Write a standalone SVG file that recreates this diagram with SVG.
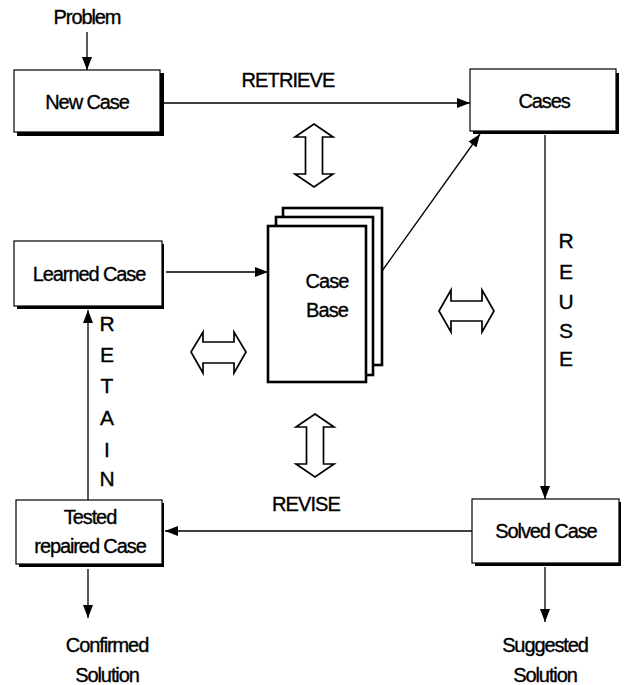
<svg xmlns="http://www.w3.org/2000/svg" width="625" height="685" viewBox="0 0 625 685">
<style>
text{font-family:"Liberation Sans",Arial,sans-serif;fill:#000;stroke:#000;stroke-width:0.35}
.lbl{font-size:20px;letter-spacing:-1.1px;text-anchor:middle}
.big{font-size:20px;letter-spacing:-0.9px;text-anchor:middle}
.vert{font-size:21px;text-anchor:middle}
.box{fill:#fff;stroke:#000;stroke-width:1.2}
.shadow{fill:#000}
.sheet{fill:#fff;stroke:#000;stroke-width:2.6}
.conn{fill:none;stroke:#000;stroke-width:1.3}
.dbl{fill:#fff;stroke:#000;stroke-width:1.7;stroke-linejoin:miter}
</style>
<defs>
<marker id="ah" viewBox="0 0 13 10" refX="13" refY="5" markerWidth="13" markerHeight="10" markerUnits="userSpaceOnUse" orient="auto">
<path d="M0,0 L13,5 L0,10 Z" fill="#000"/>
</marker>
</defs>

<g id="connectors">
<line class="conn" x1="87" y1="32" x2="87" y2="70" marker-end="url(#ah)"/>
<line class="conn" x1="163" y1="103" x2="470" y2="103" marker-end="url(#ah)"/>
<line class="conn" x1="382" y1="271" x2="480" y2="134" marker-end="url(#ah)"/>
<line class="conn" x1="166" y1="272" x2="268" y2="272" marker-end="url(#ah)"/>
<line class="conn" x1="545" y1="135" x2="545" y2="499" marker-end="url(#ah)"/>
<line class="conn" x1="472" y1="531" x2="165" y2="531" marker-end="url(#ah)"/>
<line class="conn" x1="88" y1="500" x2="88" y2="310" marker-end="url(#ah)"/>
<line class="conn" x1="88" y1="569" x2="88" y2="618" marker-end="url(#ah)"/>
<line class="conn" x1="545" y1="567" x2="545" y2="622" marker-end="url(#ah)"/>
<text x="288" y="87" class="big">RETRIEVE</text>
<text x="306" y="511" class="big">REVISE</text>
<g class="vert">
<text x="566" y="248">R</text>
<text x="566" y="279">E</text>
<text x="566" y="309">U</text>
<text x="566" y="338">S</text>
<text x="566" y="366">E</text>
<text x="107" y="331">R</text>
<text x="107" y="362">E</text>
<text x="107" y="393">T</text>
<text x="107" y="425">A</text>
<text x="107" y="457">I</text>
<text x="107" y="486">N</text>
</g>
</g>

<g id="problem"><text x="87" y="24" class="lbl">Problem</text></g>

<g id="new-case">
<rect class="shadow" x="17" y="131" width="147" height="5"/>
<rect class="shadow" x="159" y="73" width="5" height="63"/>
<rect class="box" x="14" y="70" width="146" height="62"/>
<text x="87" y="109" class="lbl">New Case</text>
</g>

<g id="cases">
<rect class="shadow" x="473" y="129" width="146" height="5"/>
<rect class="shadow" x="615" y="73" width="4" height="61"/>
<rect class="box" x="470" y="69" width="146" height="62"/>
<text x="544" y="108" class="lbl">Cases</text>
</g>

<g id="learned-case">
<rect class="shadow" x="17" y="304" width="147" height="5"/>
<rect class="shadow" x="160" y="244" width="4" height="65"/>
<rect class="box" x="14" y="241" width="148" height="65"/>
<text x="89" y="281" class="lbl">Learned Case</text>
</g>

<g id="case-base">
<rect class="sheet" x="283" y="208" width="99" height="157"/>
<rect class="sheet" x="276" y="217" width="97" height="158"/>
<rect class="sheet" x="268" y="226" width="98" height="156"/>
<text x="327" y="288" class="big">Case</text>
<text x="327" y="317" class="big">Base</text>
</g>

<g id="tested-case">
<rect class="shadow" x="19" y="562" width="145" height="5"/>
<rect class="shadow" x="160" y="503" width="4" height="64"/>
<rect class="box" x="16" y="500" width="146" height="64"/>
<text x="90" y="524" class="lbl">Tested</text>
<text x="90" y="553" class="lbl">repaired Case</text>
</g>

<g id="solved-case">
<rect class="shadow" x="475" y="561" width="146" height="5"/>
<rect class="shadow" x="617" y="502" width="4" height="64"/>
<rect class="box" x="472" y="499" width="147" height="64"/>
<text x="546" y="538" class="lbl">Solved Case</text>
</g>

<g id="confirmed-solution">
<text x="107" y="652" class="lbl">Confirmed</text>
<text x="107" y="682" class="lbl">Solution</text>
</g>

<g id="suggested-solution">
<text x="545" y="652" class="lbl">Suggested</text>
<text x="545" y="682" class="lbl">Solution</text>
</g>

<g id="double-arrows">
<path class="dbl" d="M314,124 L333,137 L322.5,137 L322.5,174 L333,174 L314,187 L295,174 L305.5,174 L305.5,137 L295,137 Z"/>
<path class="dbl" d="M315,414 L334,427 L323.5,427 L323.5,464 L334,464 L315,477 L296,464 L306.5,464 L306.5,427 L296,427 Z"/>
<path class="dbl" d="M191,352 L203,332 L203,342 L234,342 L234,332 L246,352 L234,373 L234,363 L203,363 L203,373 Z"/>
<path class="dbl" d="M439,311 L451,290 L451,301 L482,301 L482,290 L494,311 L482,332 L482,321 L451,321 L451,332 Z"/>
</g>
</svg>
